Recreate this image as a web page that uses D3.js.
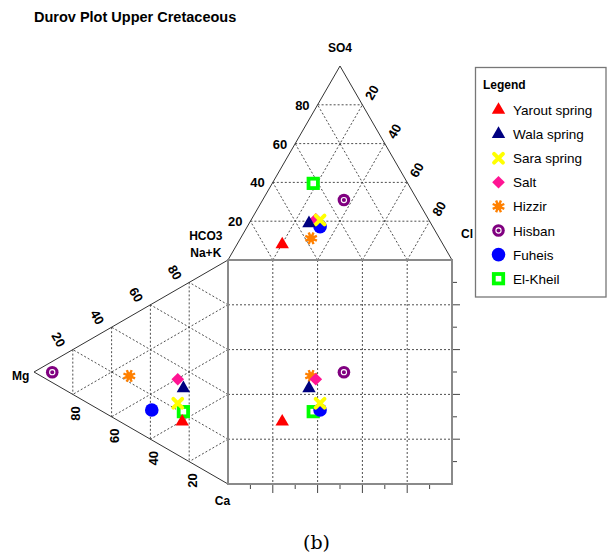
<!DOCTYPE html>
<html>
<head>
<meta charset="utf-8">
<script src="https://cdn.jsdelivr.net/npm/d3@7/dist/d3.min.js"></script>
<style>
  html, body { margin: 0; padding: 0; background: #fff; }
  svg { display: block; font-family: "Liberation Sans", Arial, sans-serif; }
</style>
</head>
<body>
<svg id="chart" width="611" height="557"></svg>
<script>
// Samples (percent of meq/l)
const samples = ["Yarout spring", "Wala spring", "Sara spring", "Salt", "Hizzir", "Hisban", "Fuheis", "El-Kheil"];
const colors  = ["#ff0000", "#000080", "#ffff00", "#ff1493", "#ff8000", "#800080", "#0000ff", "#00ff00"];
const shapes  = ["triangle", "triangle", "cross", "diamond", "asterisk", "ring", "circle", "square"];

// Anions
const SO4  = [8.0, 18.9, 20.6, 21.0, 11.2, 30.9, 17.2, 39.5];
const Cl   = [20.2, 26.7, 30.8, 28.7, 31.5, 36.3, 32.5, 18.3];
const HCO3 = [71.8, 54.4, 48.6, 50.3, 57.3, 32.8, 50.3, 42.2];

// Cations
const Ca  = [60.4, 45.8, 51.0, 40.3, 26.3, 4.8, 47.3, 56.2];
const Mg  = [23.6, 23.0, 25.9, 25.9, 50.9, 90.6, 39.3, 23.0];
const NaK = [16.0, 31.2, 23.1, 33.8, 22.8, 4.6, 13.4, 20.8];

const gridTicks = [20, 40, 60, 80];

const svg = d3.select("#chart");

// Square occupies [x0,x1] x [y0,y1]; triangles share its top and left edges
const x0 = 228, x1 = 452, y0 = 260, y1 = 484;
const side = x1 - x0;
const h = side * Math.sqrt(3) / 2;

const sx = d3.scaleLinear().domain([0, 100]).range([x0, x1]);        // square x / anion base
const sy = d3.scaleLinear().domain([0, 100]).range([y0, y1]);        // square y / cation base
const tY = d3.scaleLinear().domain([0, 100]).range([y0, y0 - h]);    // SO4 height
const lX = d3.scaleLinear().domain([0, 100]).range([x0, x0 - h]);    // Mg depth

// ternary -> screen
const anionPt  = (so4, cl) => [sx(cl + so4 / 2), tY(so4)];
const cationPt = (mg, ca)  => [lX(mg), sy(ca + mg / 2)];

const gridStyle = sel => sel.attr("stroke", "#3a3a3a").attr("stroke-width", 0.9)
  .attr("stroke-dasharray", "2,2").attr("fill", "none");

const line = d3.line();

// ---------- Title ----------
svg.append("text").attr("x", 34).attr("y", 22)
  .attr("font-size", 14.5).attr("font-weight", "bold").text("Durov Plot Upper Cretaceous");

// ---------- Top (anion) triangle ----------
const gTop = svg.append("g");
gridTicks.forEach(v => {
  // constant SO4 (horizontal)
  gTop.append("path").call(gridStyle).attr("d", line([anionPt(v, 0), anionPt(v, 100 - v)]));
  // constant Cl (parallel to HCO3–SO4 edge)
  gTop.append("path").call(gridStyle).attr("d", line([anionPt(0, v), anionPt(100 - v, v)]));
  // constant HCO3 (parallel to SO4–Cl edge)
  gTop.append("path").call(gridStyle).attr("d", line([anionPt(0, 100 - v), anionPt(100 - v, 0)]));
});
gTop.append("path")
  .attr("d", line([anionPt(0, 0), anionPt(100, 0), anionPt(0, 100)]))
  .attr("fill", "none").attr("stroke", "#333").attr("stroke-width", 1);

// left edge labels (SO4)
gridTicks.forEach(v => {
  const [px, py] = anionPt(v, 0);
  gTop.append("text").attr("x", px - 8).attr("y", py + 5)
    .attr("text-anchor", "end").attr("font-size", 13).attr("font-weight", "bold").text(v);
});
// right edge labels (Cl)
gridTicks.forEach(v => {
  const [px, py] = anionPt(100 - v, v);
  gTop.append("text")
    .attr("transform", `translate(${px + 9.5},${py - 12.4}) rotate(-60)`)
    .attr("text-anchor", "middle").attr("dy", "0.35em")
    .attr("font-size", 13).attr("font-weight", "bold").text(v);
});

// ---------- Left (cation) triangle ----------
const gLeft = svg.append("g");
gridTicks.forEach(v => {
  // constant Mg (vertical)
  gLeft.append("path").call(gridStyle).attr("d", line([cationPt(v, 0), cationPt(v, 100 - v)]));
  // constant Ca (parallel to Mg–Na+K edge)
  gLeft.append("path").call(gridStyle).attr("d", line([cationPt(0, v), cationPt(100 - v, v)]));
  // constant Na+K (parallel to Mg–Ca edge)
  gLeft.append("path").call(gridStyle).attr("d", line([cationPt(0, 100 - v), cationPt(100 - v, 0)]));
});
gLeft.append("path")
  .attr("d", line([cationPt(0, 0), cationPt(100, 0), cationPt(0, 100)]))
  .attr("fill", "none").attr("stroke", "#333").attr("stroke-width", 1);

// upper edge labels (Na+K)
gridTicks.forEach(v => {
  const [px, py] = cationPt(100 - v, 0);
  gLeft.append("text")
    .attr("transform", `translate(${px - 14.3},${py - 10}) rotate(60)`)
    .attr("text-anchor", "middle").attr("dy", "0.35em")
    .attr("font-size", 13).attr("font-weight", "bold").text(v);
});
// lower edge labels (Mg)
gridTicks.forEach(v => {
  const [px, py] = cationPt(v, 100 - v);
  gLeft.append("text")
    .attr("transform", `translate(${px + 3},${py + 19}) rotate(-90)`)
    .attr("text-anchor", "middle").attr("dy", "0.35em")
    .attr("font-size", 13).attr("font-weight", "bold").text(v);
});

// ---------- Square ----------
const gSq = svg.append("g");
gridTicks.forEach(v => {
  gSq.append("line").call(gridStyle).attr("x1", sx(v)).attr("x2", sx(v)).attr("y1", y0).attr("y2", y1);
  gSq.append("line").call(gridStyle).attr("x1", x0).attr("x2", x1).attr("y1", sy(v)).attr("y2", sy(v));
});
// outer ticks on bottom and right
sx.ticks(10).filter(t => t > 0 && t < 100).forEach(t => {
  const len = t % 20 === 0 ? 9 : 5;
  gSq.append("line").attr("x1", sx(t)).attr("x2", sx(t)).attr("y1", y1).attr("y2", y1 + len)
    .attr("stroke", "#444").attr("stroke-width", 1);
});
sy.ticks(10).filter(t => t > 0 && t < 100).forEach(t => {
  const len = t % 20 === 0 ? 8 : 5;
  gSq.append("line").attr("x1", x1).attr("x2", x1 + len).attr("y1", sy(t)).attr("y2", sy(t))
    .attr("stroke", "#444").attr("stroke-width", 1);
});
gSq.append("rect").attr("x", x0).attr("y", y0).attr("width", side).attr("height", y1 - y0)
  .attr("fill", "none").attr("stroke", "#8a8a8a").attr("stroke-width", 2);

// ---------- Vertex labels ----------
const lab = (x, y, t, anchor) => svg.append("text").attr("x", x).attr("y", y)
  .attr("text-anchor", anchor || "middle").attr("font-size", 12).attr("font-weight", "bold").text(t);
lab(340, 52, "SO4");
lab(461, 238, "Cl", "start");
lab(205.8, 240, "HCO3");
lab(205.8, 257, "Na+K");
lab(12, 380, "Mg", "start");
lab(222.5, 505, "Ca");

// ---------- Markers ----------
function drawMarker(g, shape, color) {
  switch (shape) {
    case "triangle":
      g.append("path").attr("d", d3.symbol(d3.symbolTriangle, 78)()).attr("fill", color);
      break;
    case "cross":
      g.append("path").attr("d", "M-4.4,-4.4L4.4,4.4M4.4,-4.4L-4.4,4.4")
        .attr("stroke", color).attr("stroke-width", 4).attr("stroke-linecap", "round");
      break;
    case "diamond":
      g.append("path").attr("d", d3.symbol(d3.symbolSquare, 80)()).attr("transform", "rotate(45)")
        .attr("fill", color);
      break;
    case "asterisk":
      d3.range(8).forEach(i => {
        const a = i * Math.PI / 4 + Math.PI / 8;
        g.append("line").attr("x1", 0).attr("y1", 0)
          .attr("x2", 6.3 * Math.cos(a)).attr("y2", 6.3 * Math.sin(a))
          .attr("stroke", color).attr("stroke-width", 2.4);
      });
      g.append("circle").attr("r", 3.6).attr("fill", color);
      break;
    case "ring":
      g.append("circle").attr("r", 6.3).attr("fill", color);
      g.append("circle").attr("r", 2.6).attr("fill", "none").attr("stroke", "#fff").attr("stroke-width", 1.1);
      break;
    case "circle":
      g.append("circle").attr("r", 6.8).attr("fill", color);
      break;
    case "square":
      g.append("rect").attr("x", -4.7).attr("y", -4.7).attr("width", 9.4).attr("height", 9.4)
        .attr("fill", "#fff").attr("stroke", color).attr("stroke-width", 3.8);
      break;
  }
}

// later samples sit underneath earlier ones
const order = d3.range(samples.length).reverse();
const gPts = svg.append("g");
order.forEach(i => {
  const [ax, ay] = anionPt(SO4[i], Cl[i]);
  const [cx, cy] = cationPt(Mg[i], Ca[i]);
  [[ax, ay], [cx, cy], [ax, cy]].forEach(([px, py]) => {
    drawMarker(gPts.append("g").attr("transform", `translate(${px},${py})`), shapes[i], colors[i]);
  });
});

// ---------- Legend ----------
const gLeg = svg.append("g");
gLeg.append("rect").attr("x", 475.5).attr("y", 67.5).attr("width", 130.5).attr("height", 229.5)
  .attr("fill", "#fff").attr("stroke", "#777").attr("stroke-width", 1.3);
gLeg.append("text").attr("x", 483).attr("y", 89).attr("font-size", 12).attr("font-weight", "bold").text("Legend");
samples.forEach((s, i) => {
  const yy = 110 + i * 24.1;
  drawMarker(gLeg.append("g").attr("transform", `translate(498.5,${yy})`), shapes[i], colors[i]);
  gLeg.append("text").attr("x", 513).attr("y", yy + 5).attr("font-size", 13.5).text(s);
});

// ---------- Panel caption ----------
svg.append("text").attr("x", 316.5).attr("y", 549).attr("text-anchor", "middle")
  .attr("font-family", "'DejaVu Serif', 'Liberation Serif', serif").attr("font-size", 19).text("(b)");
</script>
</body>
</html>
